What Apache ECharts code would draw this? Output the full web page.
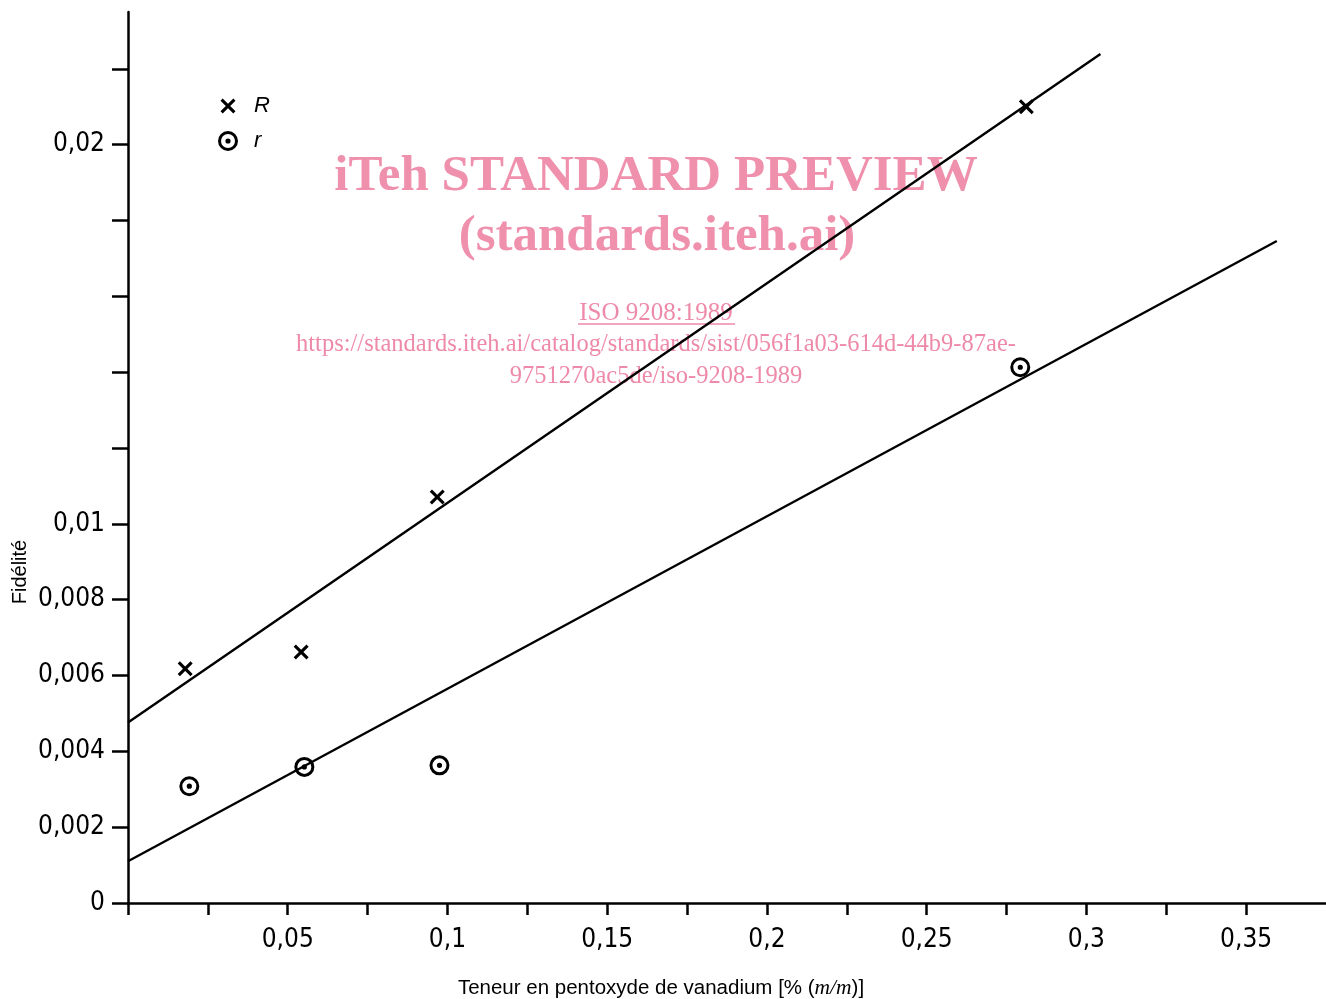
<!DOCTYPE html>
<html>
<head>
<meta charset="utf-8">
<script src="https://cdn.jsdelivr.net/npm/echarts@6/dist/echarts.min.js"></script>
<style>
  html, body { margin: 0; padding: 0; background: #fff; }
  #chart { width: 1326px; height: 999px; }
</style>
</head>
<body>
<div id="chart"></div>
<script>
// points: [teneur, fidelite]
var pointsR = [[0.0179, 0.00618], [0.0542, 0.00662], [0.0968, 0.01071], [0.2812, 0.0210]];
var pointsSmallR = [[0.0192, 0.00308], [0.0552, 0.00359], [0.0975, 0.00363], [0.2793, 0.01413]];

// fitted lines, two ends each
var lineR = [[0, 0.00476], [0.3044, 0.02239]];
var lineSmallR = [[0, 0.0011], [0.3596, 0.01746]];

var xTicks = [0, 0.025, 0.05, 0.075, 0.1, 0.125, 0.15, 0.175, 0.2, 0.225, 0.25, 0.275, 0.3, 0.325, 0.35];
var xLabels = [0.05, 0.1, 0.15, 0.2, 0.25, 0.3, 0.35];
var yTicks = [0, 0.002, 0.004, 0.006, 0.008, 0.01, 0.012, 0.014, 0.016, 0.018, 0.02, 0.022];
var yLabels = [0, 0.002, 0.004, 0.006, 0.008, 0.01, 0.02];

var crossPath = 'path://M-10 -10 M10 10 M-7.5 -5.3 L-5.3 -7.5 L7.5 5.3 L5.3 7.5 Z M5.3 -7.5 L7.5 -5.3 L-5.3 7.5 L-7.5 5.3 Z';
var dotCirclePath = 'path://M0 -10 A10 10 0 1 1 0 10 A10 10 0 1 1 0 -10 Z ' +
  'M0 -7 A7 7 0 1 0 0 7 A7 7 0 1 0 0 -7 Z ' +
  'M0 -2.6 A2.6 2.6 0 1 1 0 2.6 A2.6 2.6 0 1 1 0 -2.6 Z';

var tickFont = "'Liberation Sans Narrow', 'DejaVu Sans Condensed', sans-serif";
var pink = '#ee8aa9';

function comma(v) {
  return String(v).replace('.', ',');
}

var myChart = echarts.init(document.getElementById('chart'));

var option = {
  backgroundColor: '#fff',
  animation: false,
  grid: { left: 128, right: 0, top: 12, bottom: 96 },
  legend: {
    data: ['R', 'r'],
    orient: 'vertical',
    left: 213,
    top: 90,
    itemWidth: 20,
    itemHeight: 20,
    itemGap: 13,
    textStyle: {
      fontFamily: "'Liberation Sans', Arial, sans-serif",
      fontStyle: 'italic',
      fontSize: 22,
      color: '#000',
      padding: [0, 0, 0, 11]
    }
  },
  xAxis: {
    type: 'value',
    min: 0,
    max: 0.375,
    splitLine: { show: false },
    axisLine: { lineStyle: { color: '#000', width: 2.5 } },
    axisTick: {
      customValues: xTicks,
      length: 12,
      lineStyle: { color: '#000', width: 2.5 }
    },
    axisLabel: {
      customValues: xLabels,
      margin: 24,
      fontFamily: tickFont,
      fontSize: 26,
      color: '#000',
      formatter: comma
    }
  },
  yAxis: {
    type: 'value',
    min: 0,
    max: 0.0235,
    splitLine: { show: false },
    axisLine: { lineStyle: { color: '#000', width: 2.5 } },
    axisTick: {
      customValues: yTicks,
      length: 16,
      lineStyle: { color: '#000', width: 2.5 }
    },
    axisLabel: {
      customValues: yLabels,
      margin: 23,
      fontFamily: tickFont,
      fontSize: 26,
      color: '#000',
      formatter: comma
    }
  },
  graphic: [
    {
      type: 'text', z: 1, silent: true,
      x: 656, y: 177,
      style: {
        text: 'iTeh STANDARD PREVIEW', fill: pink, opacity: 0.95,
        font: "bold 51px 'Liberation Serif', 'Times New Roman', serif",
        align: 'center', verticalAlign: 'middle'
      }
    },
    {
      type: 'text', z: 1, silent: true,
      x: 657, y: 237,
      style: {
        text: '(standards.iteh.ai)', fill: pink, opacity: 0.95,
        font: "bold 51px 'Liberation Serif', 'Times New Roman', serif",
        align: 'center', verticalAlign: 'middle'
      }
    },
    {
      type: 'text', z: 1, silent: true,
      x: 656, y: 313,
      style: {
        text: 'ISO 9208:1989', fill: pink,
        font: "25px 'Liberation Serif', 'Times New Roman', serif",
        align: 'center', verticalAlign: 'middle'
      }
    },
    {
      type: 'line', z: 1, silent: true,
      shape: { x1: 578, y1: 324, x2: 735, y2: 324 },
      style: { stroke: pink, lineWidth: 1.5 }
    },
    {
      type: 'text', z: 1, silent: true,
      x: 656, y: 345,
      style: {
        text: 'https://standards.iteh.ai/catalog/standards/sist/056f1a03-614d-44b9-87ae-', fill: pink,
        font: "24.5px 'Liberation Serif', 'Times New Roman', serif",
        align: 'center', verticalAlign: 'middle'
      }
    },
    {
      type: 'text', z: 1, silent: true,
      x: 656, y: 377,
      style: {
        text: '9751270ac5de/iso-9208-1989', fill: pink,
        font: "24.5px 'Liberation Serif', 'Times New Roman', serif",
        align: 'center', verticalAlign: 'middle'
      }
    },
    {
      type: 'text', silent: true,
      x: 20, y: 572, rotation: Math.PI / 2,
      style: {
        text: 'Fidélité', fill: '#000',
        font: "20px 'Liberation Sans', Arial, sans-serif",
        align: 'center', verticalAlign: 'middle'
      }
    },
    {
      type: 'text', silent: true,
      x: 661, y: 988,
      style: {
        text: '{a|Teneur en pentoxyde de vanadium [% (}{b|m/m}{a|)]}',
        align: 'center', verticalAlign: 'middle',
        rich: {
          a: { fontFamily: "'Liberation Sans', Arial, sans-serif", fontSize: 20.5, fill: '#000' },
          b: { fontFamily: "'Liberation Serif', serif", fontStyle: 'italic', fontSize: 21.5, fill: '#000' }
        }
      }
    }
  ],
  series: [
    {
      name: 'R fit',
      type: 'line',
      data: lineR,
      showSymbol: false,
      silent: true,
      z: 3,
      lineStyle: { color: '#000', width: 2.4 }
    },
    {
      name: 'r fit',
      type: 'line',
      data: lineSmallR,
      showSymbol: false,
      silent: true,
      z: 3,
      lineStyle: { color: '#000', width: 2.4 }
    },
    {
      name: 'R',
      type: 'scatter',
      data: pointsR,
      symbol: crossPath,
      symbolSize: 20,
      z: 4,
      itemStyle: { color: '#000', opacity: 1 }
    },
    {
      name: 'r',
      type: 'scatter',
      data: pointsSmallR,
      symbol: dotCirclePath,
      symbolSize: 20,
      z: 4,
      itemStyle: { color: '#000', opacity: 1 }
    }
  ]
};

myChart.setOption(option);
</script>
</body>
</html>
